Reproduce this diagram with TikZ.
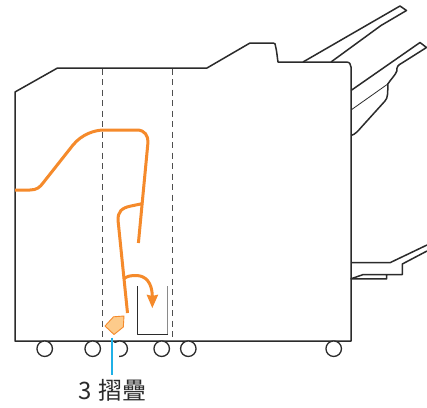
\documentclass[tikz,border=0pt]{standalone}
\usepackage{fontspec}
\setmainfont{Noto Sans CJK TC}
\definecolor{lineK}{HTML}{2B2B2B}
\definecolor{dashK}{HTML}{4F4F4F}
\definecolor{paperO}{HTML}{F58A2B}
\definecolor{paperF}{HTML}{FDCB8B}
\definecolor{leaderB}{HTML}{1FB0E6}
\tikzset{
  machine/.style={draw=lineK,line width=1.5pt,line join=round},
  thinm/.style={draw=lineK,line width=0.8pt},
  guide/.style={draw=dashK,line width=1.1pt,dash pattern=on 6pt off 4.5pt},
  paperpath/.style={draw=paperO,line width=3pt,line join=round},
  wheel/.style={circle,draw=lineK,line width=1.3pt,fill=white,minimum size=15.5pt,inner sep=0pt},
}
\begin{document}
\begin{tikzpicture}[x=1pt,y=-1pt]
\useasboundingbox (0,0) rectangle (427,407);
\fill[white] (0,0) rectangle (427,407);
% trays
\draw[machine] (303,62) -- (400,6) -- (406.5,10.5) -- (381,25.5) -- (331,62);
\draw[machine] (351,90.5) -- (420,42.5) -- (426.5,47.5) -- (402,63) .. controls (398,65) and (396.5,67) .. (396.8,71) .. controls (395.5,75) and (391,79) .. (387.8,84) .. controls (387.8,92) and (388,98) .. (385,101) -- (361.5,127) .. controls (358,131) and (355,134.5) .. (351,135.5);
\draw[thinm] (351,110) -- (387.8,84);
\draw[machine] (351,262.7) -- (390,262.7) -- (427,245);
\draw[machine] (427,251) -- (402.3,264) -- (402.3,274.5) -- (363.3,274.5) -- (351,278.8) -- (386.7,278.8) -- (386.7,274.5);
% body
\draw[machine] (15,92) -- (57.5,68) -- (207,68) -- (250,43) -- (273,43) .. controls (275.5,43) and (275,44) .. (275.5,46) .. controls (277,52) and (277,56) .. (278,62) -- (346,62) .. controls (349.5,62) and (351,64) .. (351,67) -- (351,341) -- (15,341) -- cycle;
% wheels
\node[wheel] (w1) at (44.7,348.7) {};
\node[wheel] (w2) at (92.7,348.7) {};
\node[wheel] (w3) at (119.7,348.7) {};
\node[wheel] (w4) at (161.7,348.7) {};
\node[wheel] (w5) at (188.3,348.7) {};
\node[wheel] (w6) at (333.7,348.7) {};
\fill[white] (105,342.5) rectangle (119.3,358);
% guides
\draw[guide] (102.5,68.5) -- (102.5,340);
\draw[guide] (172.8,68.5) -- (172.8,340);
% stacker
\draw[draw=lineK!55,line width=1.1pt] (167.8,286) -- (167.8,334.3);
\draw[draw=lineK,line width=1.1pt,line join=round] (137.5,286) -- (137.5,334.3) -- (168.2,334.3);
% paper path
\draw[paperpath] (15,190) -- (30,190) .. controls (37,190) and (40,187) .. (43,183) -- (73,145) .. controls (82,134) and (95,130) .. (104,130) -- (137,130) .. controls (145,130) and (148,136) .. (148,142) -- (138.4,243);
\draw[paperpath] (143,203.5) -- (131,206) .. controls (121,208) and (118,212) .. (118,220) -- (127.5,313);
\draw[paperpath] (123.5,279) .. controls (127,276) and (131,275.5) .. (136,275.5) .. controls (146,275.5) and (152,283) .. (152.3,296);
\fill[paperO] (146.5,294.5) -- (152.3,296) -- (158.3,294.5) -- (152.3,308) -- cycle;
\draw[draw=paperO,fill=paperF,line width=0.9pt,line join=round] (105,326) -- (113.5,316.8) -- (124,316) -- (123.3,327) -- (114,334.5) -- cycle;
% leader
\coordinate (leadTop) at (112.3,337.5);
\coordinate (leadBot) at (112.3,375);
\draw[leaderB,line width=2.1pt] (leadTop) -- (leadBot);
\node[anchor=base west,inner sep=0pt,font=\fontsize{24}{26}\selectfont,text=lineK] (lbl) at (78,399.5) {3\hspace{7pt}摺疊};
\end{tikzpicture}
\end{document}
